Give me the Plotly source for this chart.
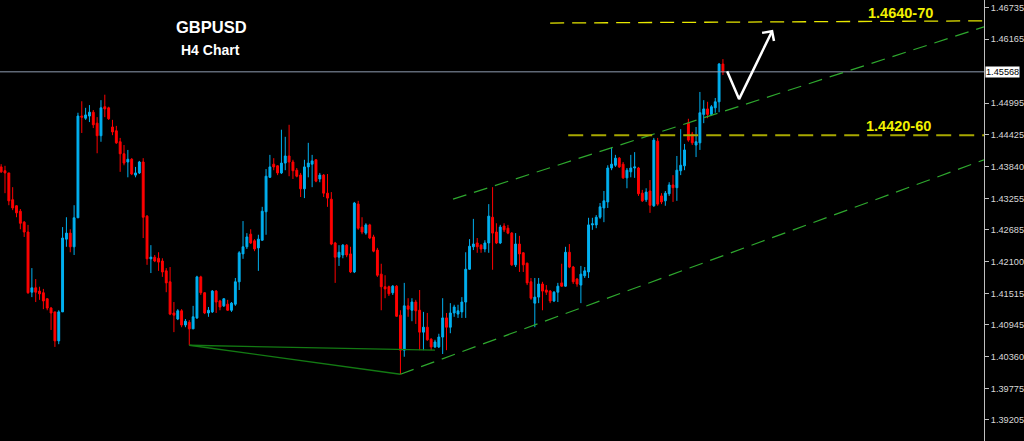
import plotly.graph_objects as go

# ---------------- data ----------------
opens = [1.4383,1.4376,1.4372,1.4323,1.4312,1.4302,1.4282,1.4264,1.4154,1.4162,
         1.4156,1.4153,1.4142,1.4125,1.4118,1.4065,1.4118,1.4251,1.4262,1.4237,
         1.4290,1.4476,1.4472,1.4476,1.4483,1.4463,1.4440,1.4493,1.4491,1.4456,
         1.4449,1.4429,1.4407,1.4392,1.4397,1.4368,1.4372,1.4392,1.4293,1.4215,
         1.4218,1.4216,1.4211,1.4193,1.4173,1.4116,1.4105,1.4120,1.4094,1.4099,
         1.4087,1.4107,1.4182,1.4153,1.4116,1.4118,1.4156,1.4138,1.4129,1.4132,
         1.4121,1.4132,1.4173,1.4224,1.4237,1.4260,1.4248,1.4235,1.4249,1.4301,
         1.4364,1.4388,1.4385,1.4372,1.4390,1.4403,1.4392,1.4377,1.4368,1.4343,
         1.4383,1.4388,1.4396,1.4361,1.4368,1.4335,1.4324,1.4244,1.4218,1.4222,
         1.4240,1.4224,1.4191,1.4315,1.4273,1.4262,1.4277,1.4255,1.4231,1.4187,
         1.4164,1.4164,1.4153,1.4165,1.4112,1.4048,1.4129,1.4121,1.4136,1.4121,
         1.4081,1.4090,1.4068,1.4054,1.4054,1.4072,1.4107,1.4090,1.4116,1.4114,
         1.4118,1.4136,1.4196,1.4237,1.4244,1.4240,1.4233,1.4244,1.4291,1.4264,
         1.4244,1.4275,1.4271,1.4262,1.4204,1.4242,1.4226,1.4207,1.4173,1.4134,
         1.4145,1.4169,1.4158,1.4156,1.4138,1.4154,1.4171,1.4165,1.4227,1.4200,
         1.4178,1.4167,1.4184,1.4191,1.4277,1.4277,1.4291,1.4308,1.4319,1.4381,
         1.4386,1.4399,1.4388,1.4363,1.4374,1.4381,1.4381,1.4335,1.4323,1.4339,
         1.4312,1.4430,1.4330,1.4321,1.4334,1.4350,1.4345,1.4376,1.4385,1.4463,
         1.4443,1.4423,1.4427,1.4479,1.4489,1.4479,1.4491,1.4502,1.4571]
highs = [1.4388,1.4385,1.4372,1.4346,1.4313,1.4306,1.4284,1.4277,1.4198,1.4178,
         1.4164,1.4160,1.4143,1.4127,1.4118,1.4121,1.4273,1.4291,1.4269,1.4313,
         1.4482,1.4503,1.4491,1.4496,1.4487,1.4474,1.4505,1.4515,1.4493,1.4469,
         1.4458,1.4436,1.4423,1.4414,1.4399,1.4383,1.4394,1.4399,1.4295,1.4240,
         1.4222,1.4227,1.4216,1.4198,1.4200,1.4136,1.4123,1.4123,1.4105,1.4103,
         1.4129,1.4184,1.4184,1.4154,1.4127,1.4158,1.4158,1.4140,1.4143,1.4140,
         1.4136,1.4180,1.4229,1.4284,1.4262,1.4269,1.4251,1.4259,1.4310,1.4379,
         1.4405,1.4399,1.4386,1.4451,1.4438,1.4460,1.4396,1.4381,1.4372,1.4396,
         1.4427,1.4405,1.4397,1.4372,1.4370,1.4370,1.4337,1.4246,1.4240,1.4242,
         1.4242,1.4237,1.4319,1.4321,1.4291,1.4280,1.4279,1.4259,1.4235,1.4206,
         1.4185,1.4166,1.4167,1.4167,1.4121,1.4171,1.4143,1.4143,1.4140,1.4158,
         1.4118,1.4116,1.4070,1.4067,1.4078,1.4143,1.4116,1.4134,1.4131,1.4131,
         1.4145,1.4227,1.4251,1.4288,1.4253,1.4242,1.4249,1.4315,1.4346,1.4280,
         1.4277,1.4280,1.4277,1.4264,1.4262,1.4257,1.4227,1.4208,1.4180,1.4180,
         1.4180,1.4173,1.4167,1.4158,1.4156,1.4171,1.4206,1.4237,1.4242,1.4202,
         1.4180,1.4202,1.4200,1.4290,1.4290,1.4295,1.4317,1.4339,1.4386,1.4419,
         1.4405,1.4401,1.4392,1.4381,1.4405,1.4410,1.4383,1.4341,1.4344,1.4359,
         1.4436,1.4436,1.4335,1.4339,1.4355,1.4368,1.4403,1.4452,1.4425,1.4471,
         1.4447,1.4456,1.4520,1.4505,1.4502,1.4496,1.4509,1.4573,1.4580]
lows = [1.4372,1.4335,1.4313,1.4304,1.4291,1.4269,1.4255,1.4151,1.4145,1.4136,
        1.4140,1.4123,1.4121,1.4085,1.4054,1.4059,1.4118,1.4237,1.4227,1.4222,
        1.4290,1.4445,1.4469,1.4465,1.4454,1.4408,1.4429,1.4474,1.4469,1.4441,
        1.4425,1.4374,1.4386,1.4364,1.4368,1.4364,1.4370,1.4253,1.4204,1.4189,
        1.4209,1.4193,1.4182,1.4154,1.4112,1.4081,1.4103,1.4090,1.4090,1.4057,
        1.4087,1.4105,1.4149,1.4114,1.4109,1.4116,1.4116,1.4121,1.4127,1.4120,
        1.4118,1.4129,1.4158,1.4215,1.4233,1.4242,1.4229,1.4193,1.4248,1.4259,
        1.4363,1.4377,1.4368,1.4370,1.4377,1.4366,1.4361,1.4364,1.4328,1.4326,
        1.4364,1.4346,1.4355,1.4355,1.4328,1.4310,1.4240,1.4171,1.4202,1.4216,
        1.4218,1.4189,1.4189,1.4268,1.4260,1.4259,1.4251,1.4227,1.4182,1.4121,
        1.4143,1.4147,1.4149,1.4109,1.4004,1.4036,1.4109,1.4101,1.4096,1.4048,
        1.4048,1.4065,1.4048,1.4052,1.4052,1.4041,1.4048,1.4079,1.4109,1.4107,
        1.4107,1.4107,1.4195,1.4231,1.4226,1.4226,1.4227,1.4226,1.4195,1.4242,
        1.4242,1.4264,1.4260,1.4202,1.4200,1.4191,1.4191,1.4167,1.4140,1.4090,
        1.4134,1.4121,1.4149,1.4134,1.4136,1.4136,1.4164,1.4164,1.4198,1.4169,
        1.4164,1.4134,1.4180,1.4180,1.4268,1.4271,1.4288,1.4282,1.4308,1.4377,
        1.4383,1.4381,1.4361,1.4344,1.4364,1.4363,1.4330,1.4319,1.4319,1.4299,
        1.4310,1.4312,1.4315,1.4312,1.4330,1.4319,1.4321,1.4368,1.4377,1.4429,
        1.4423,1.4401,1.4414,1.4463,1.4472,1.4476,1.4482,1.4483,1.4551]
closes = [1.4374,1.4372,1.4321,1.4308,1.4299,1.4280,1.4264,1.4153,1.4162,1.4154,
          1.4151,1.4138,1.4125,1.4116,1.4065,1.4118,1.4253,1.4262,1.4237,1.4290,
          1.4476,1.4474,1.4478,1.4483,1.4460,1.4440,1.4491,1.4489,1.4471,1.4447,
          1.4427,1.4407,1.4390,1.4397,1.4370,1.4372,1.4392,1.4291,1.4215,1.4218,
          1.4211,1.4209,1.4191,1.4171,1.4114,1.4112,1.4120,1.4094,1.4101,1.4087,
          1.4109,1.4182,1.4153,1.4116,1.4121,1.4156,1.4136,1.4127,1.4142,1.4121,
          1.4134,1.4173,1.4226,1.4237,1.4255,1.4244,1.4233,1.4251,1.4302,1.4366,
          1.4383,1.4383,1.4372,1.4390,1.4403,1.4392,1.4376,1.4366,1.4343,1.4383,
          1.4390,1.4394,1.4357,1.4368,1.4335,1.4326,1.4242,1.4218,1.4227,1.4240,
          1.4222,1.4191,1.4317,1.4271,1.4264,1.4277,1.4253,1.4229,1.4185,1.4164,
          1.4160,1.4151,1.4165,1.4110,1.4048,1.4129,1.4123,1.4136,1.4120,1.4081,
          1.4090,1.4067,1.4054,1.4063,1.4072,1.4107,1.4090,1.4116,1.4127,1.4120,
          1.4136,1.4196,1.4238,1.4242,1.4237,1.4233,1.4244,1.4293,1.4262,1.4244,
          1.4273,1.4268,1.4262,1.4204,1.4242,1.4224,1.4204,1.4171,1.4143,1.4145,
          1.4169,1.4156,1.4154,1.4138,1.4154,1.4165,1.4165,1.4227,1.4200,1.4173,
          1.4169,1.4187,1.4193,1.4277,1.4279,1.4291,1.4310,1.4321,1.4381,1.4388,
          1.4399,1.4383,1.4363,1.4377,1.4381,1.4383,1.4334,1.4321,1.4337,1.4313,
          1.4432,1.4315,1.4319,1.4335,1.4350,1.4345,1.4377,1.4386,1.4414,1.4432,
          1.4427,1.4429,1.4482,1.4489,1.4479,1.4493,1.4502,1.4571,1.45568]
bars = list(range(len(opens)))

price_ticks = [1.46735, 1.46165, 1.44995, 1.44425, 1.43840, 1.43255, 1.42685,
               1.42100, 1.41515, 1.40945, 1.40360, 1.39775, 1.39205]
current_price = 1.45568

# drawn objects (bar index, price)
upper_channel_x = [117.7, 256]
upper_channel_y = [1.4324, 1.4639]
lower_channel_x = [104, 256]
lower_channel_y = [1.4004, 1.4396]
pattern_a_x = [49, 104]
pattern_a_y = [1.4057, 1.4004]
pattern_b_x = [49, 113]
pattern_b_y = [1.4057, 1.4048]
target_x = [143, 256]
target_y = [1.4646, 1.4650]
support_x = [147.7, 256]
support_y = [1.4441, 1.4441]
arrow_x = [189.1, 192.2, 200.8]
arrow_y = [1.4558, 1.4507, 1.4631]
arrowhead_x = [198.2, 200.8, 201.3]
arrowhead_y = [1.4628, 1.4631, 1.4613]
target_label = "1.4640-70"
support_label = "1.4420-60"

X_RANGE = [-0.3, 256]
Y_RANGE = [1.38820, 1.46881]
PLOT_W, PLOT_H = 984, 441

fig = go.Figure()

fig.add_trace(go.Candlestick(
    x=bars, open=opens, high=highs, low=lows, close=closes,
    increasing=dict(line=dict(color="#00b0f0", width=1), fillcolor="#00b0f0"),
    decreasing=dict(line=dict(color="#ff0000", width=1), fillcolor="#ff0000"),
    whiskerwidth=0, hoverinfo="skip", showlegend=False))

def line(xs, ys, color, width, dash=None):
    fig.add_trace(go.Scatter(x=xs, y=ys, mode="lines", hoverinfo="skip",
                             showlegend=False,
                             line=dict(color=color, width=width, dash=dash)))

line([X_RANGE[0], X_RANGE[1]], [current_price, current_price], "#8e9bb0", 1)
line(pattern_a_x, pattern_a_y, "#137a13", 1.3)
line(pattern_b_x, pattern_b_y, "#137a13", 1.3)
line(upper_channel_x, upper_channel_y, "#2ea82e", 1.2, "14px,8px")
line(lower_channel_x, lower_channel_y, "#2ea82e", 1.2, "14px,8px")
line(target_x, target_y, "#e8e800", 1.3, "14px,8px")
line(support_x, support_y, "#a8a800", 2, "15px,8px")
line(arrow_x, arrow_y, "#ffffff", 2.5)
line(arrowhead_x, arrowhead_y, "#ffffff", 2.5)

def text_at(px, py, text, size, color):
    return dict(text=text, xref="paper", yref="paper", x=px / PLOT_W, y=1 - py / PLOT_H,
                xanchor="center", yanchor="middle", showarrow=False,
                font=dict(family="Liberation Sans", size=size, color=color))

fig.update_layout(
    width=1024, height=441,
    paper_bgcolor="#000000", plot_bgcolor="#000000",
    margin=dict(l=0, r=40, t=0, b=0, pad=0),
    showlegend=False,
    xaxis=dict(range=X_RANGE, visible=False, rangeslider=dict(visible=False),
               fixedrange=True),
    yaxis=dict(range=Y_RANGE, side="right", showgrid=False, zeroline=False,
               showline=True, linecolor="#c0c0c0", linewidth=1,
               ticks="outside", ticklen=4, tickcolor="#c0c0c0",
               tickvals=price_ticks, ticktext=[f"{v:.5f}" for v in price_ticks],
               tickfont=dict(family="Liberation Sans", size=9.2, color="#d8d8d8"),
               automargin=False, fixedrange=True),
    annotations=[
        text_at(211, 27, "<b>GBPUSD</b>", 16.5, "#ffffff"),
        text_at(210, 50, "<b>H4 Chart</b>", 14, "#ffffff"),
        text_at(900, 13, f"<b>{target_label}</b>", 14.5, "#f2f200"),
        text_at(898, 125.5, f"<b>{support_label}</b>", 14.5, "#f2f200"),
        dict(text=f"{current_price:.5f}", xref="paper", x=1, xanchor="left", xshift=1,
             yref="y", y=current_price, showarrow=False, bgcolor="#ffffff",
             borderpad=0, font=dict(family="Liberation Sans", size=9.2, color="#000000")),
    ],
)

fig.write_html("out.html", config={"displayModeBar": False},
               post_script="document.body.style.margin='0';document.body.style.overflow='hidden';")
